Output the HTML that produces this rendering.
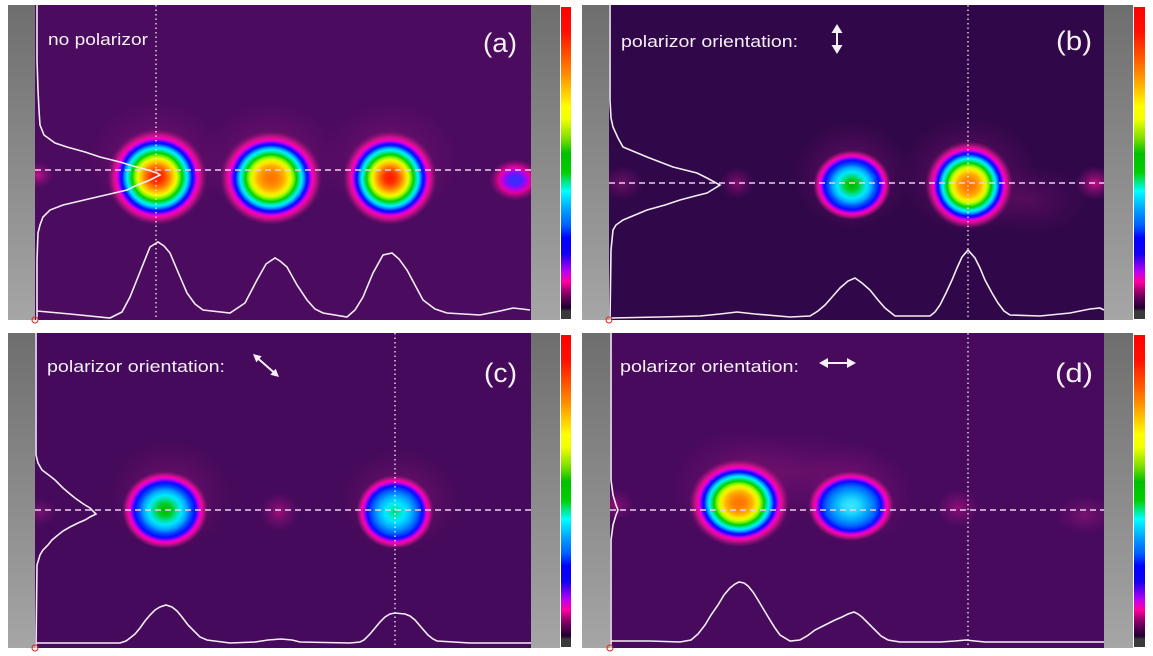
<!DOCTYPE html>
<html><head><meta charset="utf-8"><style>
html,body{margin:0;padding:0;background:#fff;width:1153px;height:656px;overflow:hidden}
svg{display:block}
text{font-family:"Liberation Sans",sans-serif;fill:#f4f0f4}
</style></head><body>
<svg width="1153" height="656" viewBox="0 0 1153 656" xmlns="http://www.w3.org/2000/svg">
<defs>
<linearGradient id="gray" x1="0" y1="0" x2="0" y2="1">
<stop offset="0" stop-color="#6e6e6e"/><stop offset="1" stop-color="#a6a6a6"/>
</linearGradient>
<linearGradient id="cbar" x1="0" y1="0" x2="0" y2="1">
<stop offset="0" stop-color="#ff0000"/><stop offset="0.08" stop-color="#ff1000"/>
<stop offset="0.17" stop-color="#ff6000"/><stop offset="0.22" stop-color="#ff9000"/>
<stop offset="0.32" stop-color="#ffff00"/><stop offset="0.36" stop-color="#f0ff00"/>
<stop offset="0.42" stop-color="#80e000"/><stop offset="0.47" stop-color="#00c000"/>
<stop offset="0.53" stop-color="#00d000"/><stop offset="0.59" stop-color="#00ffff"/>
<stop offset="0.65" stop-color="#00a0ff"/><stop offset="0.70" stop-color="#0060ff"/>
<stop offset="0.74" stop-color="#0000ff"/><stop offset="0.79" stop-color="#1000f0"/>
<stop offset="0.85" stop-color="#c000f0"/><stop offset="0.88" stop-color="#ff00a0"/>
<stop offset="0.91" stop-color="#a00070"/><stop offset="0.94" stop-color="#500050"/>
<stop offset="0.965" stop-color="#200030"/><stop offset="0.975" stop-color="#3a3a3a"/>
<stop offset="1" stop-color="#3a3a3a"/>
</linearGradient>
<radialGradient id="gRed">
<stop offset="0" stop-color="#ff1800"/><stop offset="0.12" stop-color="#ff3000"/>
<stop offset="0.24" stop-color="#ff8000"/><stop offset="0.33" stop-color="#ffd000"/>
<stop offset="0.39" stop-color="#e8ff00"/><stop offset="0.45" stop-color="#70f000"/>
<stop offset="0.50" stop-color="#00d000"/><stop offset="0.56" stop-color="#00e8a0"/>
<stop offset="0.60" stop-color="#00f0ff"/><stop offset="0.65" stop-color="#0090ff"/>
<stop offset="0.70" stop-color="#0010ff"/><stop offset="0.74" stop-color="#4000ff"/>
<stop offset="0.78" stop-color="#c000f0"/><stop offset="0.82" stop-color="#ff00b0"/>
<stop offset="0.88" stop-color="#d81490" stop-opacity="0.8"/>
<stop offset="1" stop-color="#a01080" stop-opacity="0"/>
</radialGradient>
<radialGradient id="gOrange">
<stop offset="0" stop-color="#ff7000"/><stop offset="0.14" stop-color="#ff8400"/>
<stop offset="0.26" stop-color="#ffb000"/><stop offset="0.34" stop-color="#ffe800"/>
<stop offset="0.40" stop-color="#d0ff00"/><stop offset="0.45" stop-color="#70f000"/>
<stop offset="0.50" stop-color="#00d000"/><stop offset="0.56" stop-color="#00e8a0"/>
<stop offset="0.60" stop-color="#00f0ff"/><stop offset="0.65" stop-color="#0090ff"/>
<stop offset="0.70" stop-color="#0010ff"/><stop offset="0.74" stop-color="#4000ff"/>
<stop offset="0.78" stop-color="#c000f0"/><stop offset="0.82" stop-color="#ff00b0"/>
<stop offset="0.88" stop-color="#d81490" stop-opacity="0.8"/>
<stop offset="1" stop-color="#a01080" stop-opacity="0"/>
</radialGradient>
<radialGradient id="gGreen">
<stop offset="0" stop-color="#00b800"/><stop offset="0.16" stop-color="#00cc20"/>
<stop offset="0.28" stop-color="#00e0a0"/><stop offset="0.38" stop-color="#00e8ff"/>
<stop offset="0.50" stop-color="#00a8ff"/><stop offset="0.60" stop-color="#0050ff"/>
<stop offset="0.70" stop-color="#0010ff"/><stop offset="0.75" stop-color="#6000ff"/>
<stop offset="0.80" stop-color="#d000e0"/><stop offset="0.85" stop-color="#ff00a8"/>
<stop offset="0.91" stop-color="#c81490" stop-opacity="0.75"/>
<stop offset="1" stop-color="#a01080" stop-opacity="0"/>
</radialGradient>
<radialGradient id="gCyan">
<stop offset="0" stop-color="#00d070"/><stop offset="0.12" stop-color="#00e8c0"/>
<stop offset="0.25" stop-color="#00e8ff"/><stop offset="0.42" stop-color="#00b0ff"/>
<stop offset="0.58" stop-color="#0060ff"/><stop offset="0.70" stop-color="#0010ff"/>
<stop offset="0.75" stop-color="#6000ff"/><stop offset="0.80" stop-color="#d000e0"/>
<stop offset="0.85" stop-color="#ff00a8"/>
<stop offset="0.91" stop-color="#c81490" stop-opacity="0.75"/>
<stop offset="1" stop-color="#a01080" stop-opacity="0"/>
</radialGradient>
<radialGradient id="gAzure">
<stop offset="0" stop-color="#40e8ff"/><stop offset="0.2" stop-color="#20d8ff"/>
<stop offset="0.42" stop-color="#00a0ff"/><stop offset="0.58" stop-color="#0060ff"/>
<stop offset="0.70" stop-color="#0010ff"/><stop offset="0.75" stop-color="#6000ff"/>
<stop offset="0.80" stop-color="#d000e0"/><stop offset="0.85" stop-color="#ff00a8"/>
<stop offset="0.91" stop-color="#c81490" stop-opacity="0.75"/>
<stop offset="1" stop-color="#a01080" stop-opacity="0"/>
</radialGradient>
<radialGradient id="gViolet">
<stop offset="0" stop-color="#3030ff"/><stop offset="0.25" stop-color="#5020ff"/>
<stop offset="0.45" stop-color="#b000f0"/>
<stop offset="0.62" stop-color="#ff00a0" stop-opacity="0.85"/>
<stop offset="1" stop-color="#a01080" stop-opacity="0"/>
</radialGradient>
<radialGradient id="gPink">
<stop offset="0" stop-color="#e0108c" stop-opacity="0.85"/>
<stop offset="0.5" stop-color="#b0108a" stop-opacity="0.45"/>
<stop offset="1" stop-color="#a01080" stop-opacity="0"/>
</radialGradient>
<radialGradient id="gHalo">
<stop offset="0" stop-color="#c0208f" stop-opacity="0.4"/>
<stop offset="1" stop-color="#a01080" stop-opacity="0"/>
</radialGradient>
<clipPath id="cA"><rect x="35" y="5" width="496" height="315"/></clipPath>
<clipPath id="cB"><rect x="609" y="5" width="495" height="315"/></clipPath>
<clipPath id="cC"><rect x="35" y="333" width="496" height="315"/></clipPath>
<clipPath id="cD"><rect x="610" y="333" width="494" height="315"/></clipPath>
</defs>

<!-- Panel A -->
<rect x="8" y="5" width="27" height="315" fill="url(#gray)"/>
<rect x="35" y="5" width="496" height="315" fill="#4b0b5f"/>
<rect x="531" y="5" width="29" height="315" fill="url(#gray)"/>
<rect x="561" y="7" width="10" height="312" fill="url(#cbar)"/>
<g clip-path="url(#cA)">
<ellipse cx="157" cy="160" rx="70" ry="60" fill="url(#gHalo)"/>
<ellipse cx="271" cy="160" rx="70" ry="60" fill="url(#gHalo)"/>
<ellipse cx="390" cy="160" rx="70" ry="60" fill="url(#gHalo)"/>
<ellipse cx="38" cy="175" rx="16" ry="13" fill="url(#gPink)"/>
<ellipse cx="157" cy="177" rx="50" ry="48" fill="url(#gRed)"/>
<ellipse cx="271" cy="178" rx="51" ry="47" fill="url(#gOrange)"/>
<ellipse cx="390" cy="178" rx="47" ry="47" fill="url(#gRed)"/>
<ellipse cx="515" cy="180" rx="26" ry="21" fill="url(#gViolet)"/>
</g>
<line x1="35" y1="170" x2="531" y2="170" stroke="#ecd0ec" stroke-width="1.5" stroke-dasharray="6 4"/>
<line x1="156" y1="5" x2="156" y2="320" stroke="#f4f0f4" stroke-width="1.3" stroke-dasharray="1.5 3"/>
<polyline fill="none" stroke="#f4eef4" stroke-width="1.6" points="37,5 37,60 38,90 39,110 40,125 44,135 55,143 67,147 85,152 100,157 120,162 133,166 148,170 157,173 160,175 150,180 135,186 127,190 110,194 97,197 80,201 63,205 50,210 43,217 40,225 38,233 37,260 37,320"/>
<polyline fill="none" stroke="#f4eef4" stroke-width="1.6" points="37,311 70,314 110,318 122,312 130,297 140,272 150,247 158,242 164,246 170,253 178,272 187,293 195,304 203,310 230,313 245,303 257,280 266,264 275,258 280,261 287,267 297,285 307,300 315,309 323,313 347,317 355,310 363,297 373,273 383,255 392,253 399,259 407,270 415,285 423,300 435,309 447,313 480,315 500,311 513,308 522,309 530,310"/>
<circle cx="35" cy="320" r="3" fill="none" stroke="#e02020" stroke-width="1"/>
<text x="48" y="45" font-size="17" textLength="100" lengthAdjust="spacingAndGlyphs">no polarizor</text>
<text x="483" y="52" font-size="27" textLength="34" lengthAdjust="spacingAndGlyphs">(a)</text>

<!-- Panel B -->
<rect x="582" y="5" width="27" height="315" fill="url(#gray)"/>
<rect x="609" y="5" width="495" height="315" fill="#300749"/>
<rect x="1104" y="5" width="29" height="315" fill="url(#gray)"/>
<rect x="1134" y="7" width="11" height="312" fill="url(#cbar)"/>
<g clip-path="url(#cB)">
<ellipse cx="852" cy="175" rx="60" ry="55" fill="url(#gHalo)"/>
<ellipse cx="969" cy="175" rx="70" ry="60" fill="url(#gHalo)"/>
<ellipse cx="1030" cy="200" rx="60" ry="35" fill="url(#gHalo)" opacity="0.6"/>
<ellipse cx="622" cy="183" rx="22" ry="18" fill="url(#gHalo)"/>
<ellipse cx="737" cy="183" rx="17" ry="16" fill="url(#gPink)" opacity="0.6"/>
<ellipse cx="1095" cy="183" rx="20" ry="17" fill="url(#gPink)"/>
<ellipse cx="852" cy="185" rx="39" ry="35" fill="url(#gGreen)"/>
<ellipse cx="969" cy="185" rx="44" ry="44" fill="url(#gOrange)"/>
</g>
<line x1="609" y1="183" x2="1104" y2="183" stroke="#ecd0ec" stroke-width="1.5" stroke-dasharray="6 4"/>
<line x1="968" y1="5" x2="968" y2="320" stroke="#f4f0f4" stroke-width="1.3" stroke-dasharray="1.5 3"/>
<polyline fill="none" stroke="#f4eef4" stroke-width="1.6" points="610,5 610,100 611,118 613,127 618,138 623,147 635,152 647,157 660,162 673,167 685,170 697,173 707,178 720,185 712,190 707,193 695,196 680,200 665,205 647,210 635,215 623,220 616,225 613,230 611,250 610,320"/>
<polyline fill="none" stroke="#f4eef4" stroke-width="1.6" points="611,318 660,317 700,316 720,314 737,312 755,314 790,317 810,316 818,311 825,305 833,296 840,288 848,281 855,278 862,283 870,290 878,300 885,308 895,316 930,316 935,312 940,305 946,293 952,280 957,268 962,257 968,250 975,258 980,268 985,280 992,293 998,303 1004,311 1010,315 1040,316 1070,313 1090,309 1100,308 1104,310"/>
<circle cx="609" cy="320" r="3" fill="none" stroke="#e02020" stroke-width="1"/>
<text x="621" y="47" font-size="17" textLength="177" lengthAdjust="spacingAndGlyphs">polarizor orientation:</text>
<g fill="#f4f0f4" stroke="#f4f0f4">
<line x1="837" y1="30" x2="837" y2="48" stroke-width="2"/>
<polygon points="837,24 831.5,33 842.5,33" stroke="none"/>
<polygon points="837,54 831.5,45 842.5,45" stroke="none"/>
</g>
<text x="1056" y="50" font-size="27" textLength="36" lengthAdjust="spacingAndGlyphs">(b)</text>

<!-- Panel C -->
<rect x="8" y="333" width="27" height="315" fill="url(#gray)"/>
<rect x="35" y="333" width="496" height="315" fill="#450a5b"/>
<rect x="531" y="333" width="29" height="315" fill="url(#gray)"/>
<rect x="561" y="335" width="10" height="312" fill="url(#cbar)"/>
<g clip-path="url(#cC)">
<ellipse cx="170" cy="495" rx="62" ry="55" fill="url(#gHalo)"/>
<ellipse cx="400" cy="500" rx="60" ry="52" fill="url(#gHalo)"/>
<ellipse cx="279" cy="512" rx="20" ry="20" fill="url(#gPink)" opacity="0.7"/>
<ellipse cx="40" cy="512" rx="18" ry="14" fill="url(#gHalo)"/>
<ellipse cx="165" cy="510" rx="43" ry="39" fill="url(#gGreen)"/>
<ellipse cx="395" cy="512" rx="39" ry="37" fill="url(#gCyan)"/>
</g>
<line x1="35" y1="510" x2="531" y2="510" stroke="#ecd0ec" stroke-width="1.5" stroke-dasharray="6 4"/>
<line x1="395" y1="333" x2="395" y2="648" stroke="#f4f0f4" stroke-width="1.3" stroke-dasharray="1.5 3"/>
<polyline fill="none" stroke="#f4eef4" stroke-width="1.6" points="36,333 36,455 38,463 42,470 50,476 55,480 63,488 70,494 75,498 82,503 85,505 90,508 96,514 90,517 85,520 78,523 70,527 63,531 58,535 52,540 48,545 43,550 40,555 37,565 36,648"/>
<polyline fill="none" stroke="#f4eef4" stroke-width="1.6" points="36,643 90,643 120,643 126,641 130,638 135,634 140,628 145,621 150,615 155,610 160,607 166,605 172,607 177,611 182,617 188,625 195,632 200,637 207,640 230,643 255,642 268,640 281,639 292,640 300,642 350,643 360,642 364,640 370,634 375,628 380,622 385,617 390,614 395,613 405,614 410,616 415,620 421,627 428,635 433,639 437,641 470,643 531,643"/>
<circle cx="35" cy="648" r="3" fill="none" stroke="#e02020" stroke-width="1"/>
<text x="47" y="372" font-size="17" textLength="178" lengthAdjust="spacingAndGlyphs">polarizor orientation:</text>
<g fill="#f4f0f4" stroke="#f4f0f4">
<line x1="258" y1="358.5" x2="274" y2="372.5" stroke-width="2"/>
<polygon points="253,354 256.3,362.3 261.7,356.3" stroke="none"/>
<polygon points="279,377 270.3,374.7 275.7,368.7" stroke="none"/>
</g>
<text x="484" y="382" font-size="27" textLength="33" lengthAdjust="spacingAndGlyphs">(c)</text>

<!-- Panel D -->
<rect x="582" y="333" width="28" height="315" fill="url(#gray)"/>
<rect x="610" y="333" width="494" height="315" fill="#470a5d"/>
<rect x="1104" y="333" width="29" height="315" fill="url(#gray)"/>
<rect x="1134" y="335" width="11" height="312" fill="url(#cbar)"/>
<g clip-path="url(#cD)">
<ellipse cx="740" cy="488" rx="72" ry="62" fill="url(#gHalo)"/>
<ellipse cx="855" cy="495" rx="62" ry="52" fill="url(#gHalo)"/>
<ellipse cx="800" cy="470" rx="90" ry="40" fill="url(#gHalo)" opacity="0.6"/>
<ellipse cx="958" cy="508" rx="22" ry="20" fill="url(#gPink)" opacity="0.6"/>
<ellipse cx="615" cy="505" rx="20" ry="16" fill="url(#gPink)" opacity="0.6"/>
<ellipse cx="1085" cy="515" rx="30" ry="20" fill="url(#gHalo)"/>
<ellipse cx="739" cy="503" rx="50" ry="44" fill="url(#gOrange)"/>
<ellipse cx="851" cy="506" rx="43" ry="35" fill="url(#gAzure)"/>
</g>
<line x1="610" y1="510" x2="1104" y2="510" stroke="#ecd0ec" stroke-width="1.5" stroke-dasharray="6 4"/>
<line x1="968" y1="333" x2="968" y2="648" stroke="#f4f0f4" stroke-width="1.3" stroke-dasharray="1.5 3"/>
<polyline fill="none" stroke="#f4eef4" stroke-width="1.6" points="611,333 611,480 613,495 616,505 618,510 616,515 613,525 611,540 611,648"/>
<polyline fill="none" stroke="#f4eef4" stroke-width="1.6" points="611,641 650,641 680,642 691,640 698,634 705,625 711,615 718,605 724,595 730,588 735,584 739,582 744,583 748,586 753,592 758,600 764,610 770,620 775,628 780,635 790,641 800,640 807,636 815,630 825,625 835,620 842,617 848,614 854,612 858,614 862,617 868,623 875,630 881,636 888,640 900,642 940,642 955,641 966,640 975,641 985,642 1050,642 1104,642"/>
<circle cx="610" cy="648" r="3" fill="none" stroke="#e02020" stroke-width="1"/>
<text x="620" y="372" font-size="17" textLength="179" lengthAdjust="spacingAndGlyphs">polarizor orientation:</text>
<g fill="#f4f0f4" stroke="#f4f0f4">
<line x1="824" y1="363" x2="851" y2="363" stroke-width="2"/>
<polygon points="819,363 828,358 828,368" stroke="none"/>
<polygon points="856,363 847,358 847,368" stroke="none"/>
</g>
<text x="1055" y="382" font-size="27" textLength="38" lengthAdjust="spacingAndGlyphs">(d)</text>
</svg>
</body></html>
